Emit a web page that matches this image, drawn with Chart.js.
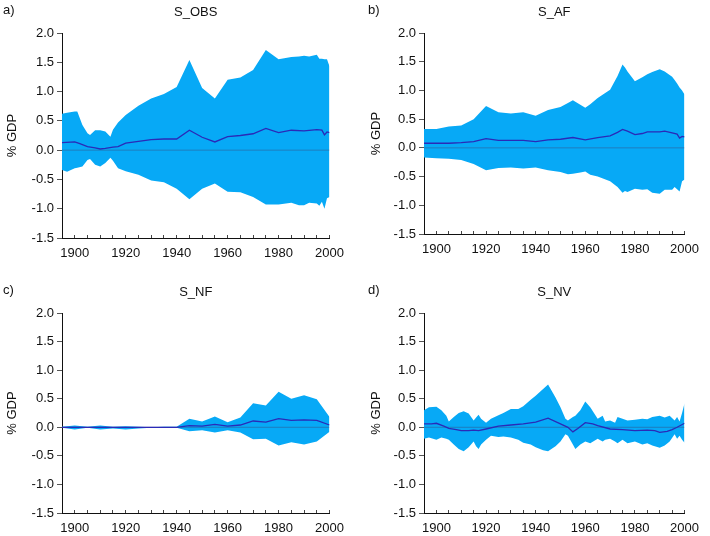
<!DOCTYPE html>
<html>
<head>
<meta charset="utf-8">
<script src="https://cdn.jsdelivr.net/npm/chart.js@4/dist/chart.umd.min.js"></script>
<style>
  body { margin: 0; background: #fff; width: 710px; height: 536px; position: relative; overflow: hidden; }
  canvas { position: absolute; }
</style>
</head>
<body>
<canvas id="pa" width="355" height="265" style="left:0;top:0"></canvas>
<canvas id="pb" width="355" height="265" style="left:355px;top:0"></canvas>
<canvas id="pc" width="355" height="271" style="left:0;top:265px"></canvas>
<canvas id="pd" width="355" height="271" style="left:355px;top:265px"></canvas>
<script>
// a) S_OBS
const obsYears = [1895, 1897, 1900, 1901, 1903, 1905, 1906, 1908, 1910, 1912, 1914, 1915, 1917, 1920, 1925, 1930, 1935, 1940, 1945, 1950, 1955, 1960, 1965, 1970, 1975, 1980, 1985, 1988, 1990, 1992, 1995, 1996, 1997, 1998, 1999, 2000];
const obsUpper = [0.62, 0.64, 0.66, 0.66, 0.43, 0.29, 0.26, 0.34, 0.34, 0.32, 0.23, 0.35, 0.47, 0.60, 0.76, 0.88, 0.96, 1.08, 1.54, 1.06, 0.88, 1.20, 1.24, 1.37, 1.71, 1.55, 1.59, 1.60, 1.61, 1.60, 1.63, 1.56, 1.56, 1.55, 1.55, 1.43];
const obsLower = [-0.34, -0.37, -0.31, -0.30, -0.28, -0.17, -0.15, -0.25, -0.28, -0.22, -0.13, -0.18, -0.31, -0.36, -0.42, -0.52, -0.55, -0.66, -0.84, -0.66, -0.57, -0.71, -0.72, -0.80, -0.93, -0.93, -0.90, -0.94, -0.94, -0.90, -0.91, -0.95, -0.88, -1.00, -0.82, -0.80];
const obsMidYears = [1895, 1900, 1902, 1905, 1908, 1910, 1912, 1915, 1917, 1920, 1925, 1930, 1935, 1940, 1945, 1950, 1955, 1960, 1965, 1970, 1975, 1980, 1985, 1990, 1995, 1997, 1998, 1999, 2000];
const obsMid = [0.13, 0.14, 0.11, 0.06, 0.04, 0.02, 0.03, 0.05, 0.06, 0.12, 0.15, 0.18, 0.19, 0.19, 0.34, 0.22, 0.14, 0.23, 0.25, 0.28, 0.37, 0.30, 0.34, 0.33, 0.35, 0.34, 0.26, 0.31, 0.30];

// b) S_AF
const afYears = [1895, 1900, 1905, 1910, 1915, 1920, 1925, 1930, 1935, 1940, 1945, 1950, 1953, 1955, 1958, 1960, 1962, 1965, 1970, 1973, 1975, 1976, 1977, 1980, 1983, 1985, 1987, 1990, 1992, 1995, 1996, 1997, 1998, 1999, 2000];
const afUpper = [0.33, 0.33, 0.37, 0.39, 0.50, 0.73, 0.62, 0.60, 0.62, 0.56, 0.66, 0.71, 0.78, 0.83, 0.75, 0.70, 0.76, 0.87, 1.01, 1.25, 1.45, 1.40, 1.33, 1.16, 1.23, 1.28, 1.32, 1.37, 1.33, 1.24, 1.18, 1.12, 1.05, 1.00, 0.93];
const afLower = [-0.17, -0.18, -0.19, -0.21, -0.28, -0.39, -0.35, -0.34, -0.36, -0.34, -0.39, -0.42, -0.46, -0.45, -0.43, -0.41, -0.47, -0.50, -0.58, -0.68, -0.78, -0.75, -0.77, -0.71, -0.73, -0.72, -0.78, -0.80, -0.73, -0.73, -0.68, -0.72, -0.76, -0.58, -0.55];
const afMidYears = [1895, 1900, 1905, 1910, 1915, 1920, 1925, 1930, 1935, 1940, 1945, 1950, 1955, 1960, 1965, 1970, 1973, 1975, 1977, 1980, 1983, 1985, 1990, 1992, 1995, 1997, 1998, 1999, 2000];
const afMid = [0.08, 0.08, 0.08, 0.09, 0.11, 0.16, 0.13, 0.13, 0.13, 0.11, 0.14, 0.15, 0.18, 0.14, 0.18, 0.21, 0.27, 0.32, 0.29, 0.23, 0.25, 0.28, 0.28, 0.29, 0.26, 0.24, 0.17, 0.20, 0.19];

// c) S_NF
const nfYears = [1895, 1900, 1905, 1910, 1915, 1920, 1925, 1930, 1935, 1940, 1945, 1950, 1955, 1960, 1965, 1970, 1975, 1980, 1985, 1990, 1995, 2000];
const nfUpper = [0.01, 0.03, 0.01, 0.03, 0.01, 0.02, 0.01, 0.00, 0.01, 0.01, 0.15, 0.10, 0.19, 0.09, 0.17, 0.42, 0.38, 0.62, 0.50, 0.56, 0.49, 0.18];
const nfLower = [-0.01, -0.04, -0.01, -0.04, -0.02, -0.04, -0.02, -0.01, -0.01, -0.01, -0.07, -0.05, -0.09, -0.05, -0.09, -0.21, -0.20, -0.32, -0.26, -0.30, -0.25, -0.08];
const nfMidYears = nfYears;
const nfMid = [0.00, 0.00, 0.00, 0.00, 0.00, 0.00, 0.00, 0.00, 0.00, 0.00, 0.03, 0.02, 0.05, 0.02, 0.04, 0.11, 0.09, 0.15, 0.12, 0.13, 0.12, 0.04];

// d) S_NV
const nvYears = [1895, 1897, 1900, 1902, 1904, 1905, 1907, 1909, 1911, 1913, 1915, 1916, 1917, 1918, 1920, 1922, 1925, 1927, 1930, 1933, 1935, 1938, 1940, 1943, 1945, 1948, 1950, 1952, 1953, 1955, 1956, 1958, 1960, 1962, 1965, 1967, 1968, 1970, 1972, 1973, 1975, 1977, 1980, 1983, 1985, 1987, 1990, 1992, 1994, 1996, 1997, 1998, 1999, 2000];
const nvUpper = [0.30, 0.35, 0.36, 0.30, 0.20, 0.10, 0.18, 0.25, 0.28, 0.24, 0.12, 0.17, 0.22, 0.15, 0.08, 0.15, 0.21, 0.25, 0.32, 0.32, 0.37, 0.48, 0.55, 0.67, 0.75, 0.52, 0.35, 0.15, 0.12, 0.18, 0.20, 0.30, 0.45, 0.35, 0.15, 0.20, 0.10, 0.12, 0.08, 0.18, 0.15, 0.12, 0.13, 0.15, 0.14, 0.18, 0.20, 0.17, 0.20, 0.12, 0.18, 0.10, 0.25, 0.42];
const nvLower = [-0.20, -0.18, -0.22, -0.18, -0.20, -0.22, -0.30, -0.38, -0.42, -0.35, -0.25, -0.33, -0.38, -0.30, -0.22, -0.15, -0.17, -0.16, -0.18, -0.22, -0.27, -0.30, -0.35, -0.40, -0.42, -0.33, -0.25, -0.12, -0.15, -0.30, -0.38, -0.30, -0.25, -0.28, -0.20, -0.25, -0.22, -0.20, -0.25, -0.28, -0.22, -0.28, -0.25, -0.30, -0.28, -0.32, -0.36, -0.32, -0.25, -0.12, -0.20, -0.15, -0.22, -0.27];
const nvMidYears = [1895, 1898, 1900, 1903, 1905, 1908, 1910, 1913, 1915, 1917, 1920, 1925, 1930, 1935, 1940, 1945, 1950, 1953, 1955, 1957, 1960, 1963, 1965, 1970, 1975, 1980, 1985, 1988, 1990, 1993, 1995, 1997, 2000];
const nvMid = [0.06, 0.06, 0.07, 0.02, -0.02, -0.04, -0.06, -0.06, -0.05, -0.06, -0.03, 0.02, 0.04, 0.06, 0.09, 0.16, 0.06, 0.00, -0.08, -0.02, 0.08, 0.06, 0.03, -0.03, -0.04, -0.06, -0.05, -0.06, -0.09, -0.07, -0.04, 0.00, 0.07];

// zero line and tick labels
const zeroYears = [1895, 2000];
const zeroLine = [0, 0];
const yTicks = [-1.5, -1.0, -0.5, 0.0, 0.5, 1.0, 1.5, 2.0];
const xLabelYears = [1900, 1920, 1940, 1960, 1980, 2000];

const FONT = '"Liberation Sans", Arial, sans-serif';
const BAND = '#07a9f6';
const LINE = '#2a2ab8';

const toPoints = (xs, ys) => xs.map((x, i) => ({ x: x, y: ys[i] }));

// titre + lettre du panneau
const panelText = {
  id: 'panelText',
  afterDraw(chart, args, opts) {
    const { ctx, chartArea } = chart;
    ctx.save();
    ctx.fillStyle = '#111';
    ctx.font = '13px ' + FONT;
    ctx.textBaseline = 'middle';
    ctx.textAlign = 'center';
    ctx.fillText(opts.title, (chartArea.left + chartArea.right) / 2, chartArea.top - 21);
    ctx.textAlign = 'left';
    ctx.fillText(opts.letter, opts.letterX, chartArea.top - 23);
    ctx.restore();
  }
};

function makePanel(id, letter, title, years, upper, lower, midYears, mid, box) {
  new Chart(document.getElementById(id), {
    type: 'line',
    data: {
      datasets: [
        { data: toPoints(midYears, mid), borderColor: LINE, borderWidth: 1.3, pointRadius: 0, fill: false, order: 0 },
        { data: toPoints(zeroYears, zeroLine), borderColor: 'rgba(60,70,120,0.55)', borderWidth: 0.8, pointRadius: 0, fill: false, order: 1 },
        { data: toPoints(years, lower), borderWidth: 0, borderColor: BAND, pointRadius: 0, fill: false, order: 2 },
        { data: toPoints(years, upper), borderWidth: 0, borderColor: BAND, backgroundColor: BAND, pointRadius: 0, fill: '-1', order: 3 }
      ]
    },
    options: {
      responsive: false,
      animation: false,
      layout: { padding: { left: 0, top: box.top, right: box.right, bottom: 0 } },
      plugins: {
        legend: { display: false },
        tooltip: { enabled: false },
        panelText: { title: title, letter: letter, letterX: box.letterX }
      },
      scales: {
        x: {
          type: 'linear',
          min: 1895,
          max: 2000,
          afterFit: s => { s.height = box.bottom; },
          border: { display: true, color: '#111', width: 1 },
          grid: { drawOnChartArea: false, tickLength: -3, color: '#444' },
          ticks: {
            stepSize: 5,
            autoSkip: false,
            maxRotation: 0,
            padding: 11,
            color: '#111',
            font: { family: FONT, size: 13 },
            callback: v => xLabelYears.includes(v) ? String(v) : ''
          }
        },
        y: {
          min: yTicks[0],
          max: yTicks[yTicks.length - 1],
          afterFit: s => { s.width = box.left; },
          border: { display: true, color: '#111', width: 1 },
          grid: { drawOnChartArea: false, tickLength: 5, color: '#555' },
          ticks: {
            stepSize: 0.5,
            padding: 3,
            color: '#111',
            font: { family: FONT, size: 13 },
            callback: v => yTicks.includes(v) ? v.toFixed(1) : ''
          },
          title: {
            display: true,
            text: '% GDP',
            color: '#111',
            font: { family: FONT, size: 13 },
            padding: { top: box.yTitle, bottom: 0 }
          }
        }
      }
    },
    plugins: [panelText]
  });
}

makePanel('pa', 'a)', 'S_OBS', obsYears, obsUpper, obsLower, obsMidYears, obsMid,
  { left: 62, top: 33, right: 25, bottom: 27, yTitle: 5, letterX: 3 });
makePanel('pb', 'b)', 'S_AF', afYears, afUpper, afLower, afMidYears, afMid,
  { left: 69, top: 33, right: 17, bottom: 31, yTitle: 14, letterX: 13 });
makePanel('pc', 'c)', 'S_NF', nfYears, nfUpper, nfLower, nfMidYears, nfMid,
  { left: 62, top: 48, right: 25, bottom: 23, yTitle: 5, letterX: 3 });
makePanel('pd', 'd)', 'S_NV', nvYears, nvUpper, nvLower, nvMidYears, nvMid,
  { left: 69, top: 48, right: 17, bottom: 23, yTitle: 14, letterX: 13 });
</script>
</body>
</html>
